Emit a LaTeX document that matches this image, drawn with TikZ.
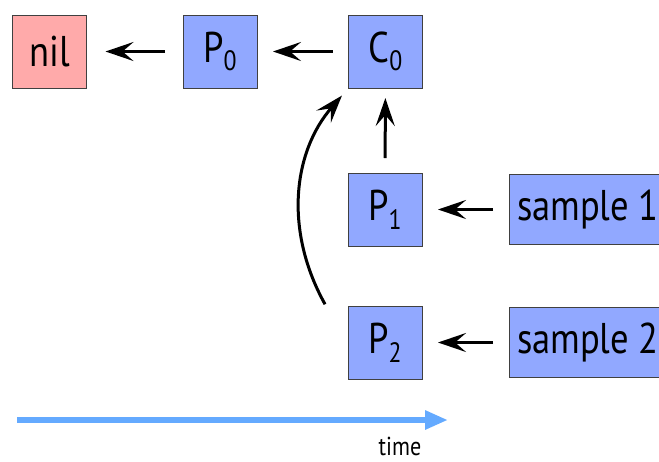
\documentclass[tikz,border=0pt]{standalone}
\usepackage{fontspec}
\setmainfont{PT Sans}[FakeStretch=0.85]
\usetikzlibrary{arrows.meta}
\definecolor{procblue}{RGB}{145,168,255}
\definecolor{nilred}{RGB}{255,170,170}
\definecolor{timeblue}{RGB}{100,170,255}
\newcommand{\idx}[1]{\raisebox{-.4ex}{\fontsize{14}{16}\selectfont #1}}
\tikzset{cell/.style={draw=black!75,fill=procblue,minimum width=37pt,minimum height=36.5pt,
  inner sep=0pt,outer sep=0pt,font=\fontsize{21.5}{26}\selectfont},
 nilcell/.style={cell,fill=nilred},
 samplebox/.style={cell,anchor=west,minimum height=35pt,inner sep=4pt},
 link/.style={-{Stealth[length=14pt,width=9.5pt,inset=5.5pt]},line width=1.5pt,
  shorten >=5pt,shorten <=7.5pt},
 timeline/.style={-{Triangle[length=11.5pt,width=9pt]},timeblue,line width=3.3pt}}

\begin{document}
\begin{tikzpicture}[x=0.5pt,y=-0.5pt]
\useasboundingbox (0,0) rectangle (659,461);
\node[nilcell] (nil) at (49.5,51.5) {nil};
\node[cell] (p0) at (220,51.5) {P\idx{0}};
\node[cell] (c0) at (385.5,51.5) {C\idx{0}};
\node[cell] (p1) at (385,209.5) {P\idx{1}};
\node[cell] (p2) at (385,342.5) {P\idx{2}};
\node[samplebox] (s1) at (509,209.5) {sample 1};
\node[samplebox] (s2) at (509,342.5) {sample 2};
% chain of parents
\draw[link,shorten >=9.5pt,shorten <=9pt] (p0) -- (nil);
\draw[link,shorten >=8pt,shorten <=8pt] (c0) -- (p0);
\draw[link] (p1) -- (c0);
\draw[link,shorten >=8pt,shorten <=8pt] (s1) -- (p1);
\draw[link,shorten >=8pt,shorten <=8pt] (s2) -- (p2);
\draw[link,shorten >=5pt,shorten <=1pt] ([xshift=-11pt]p2.north west) to[bend left=35] (c0.south west);
% time axis
\coordinate (t0) at (17,420);
\coordinate (t1) at (448,420);
\draw[timeline] (t0) -- (t1);
\node[font=\fontsize{13}{16}\selectfont,inner sep=1pt] (time) at (400,446) {time};
\end{tikzpicture}
\end{document}
